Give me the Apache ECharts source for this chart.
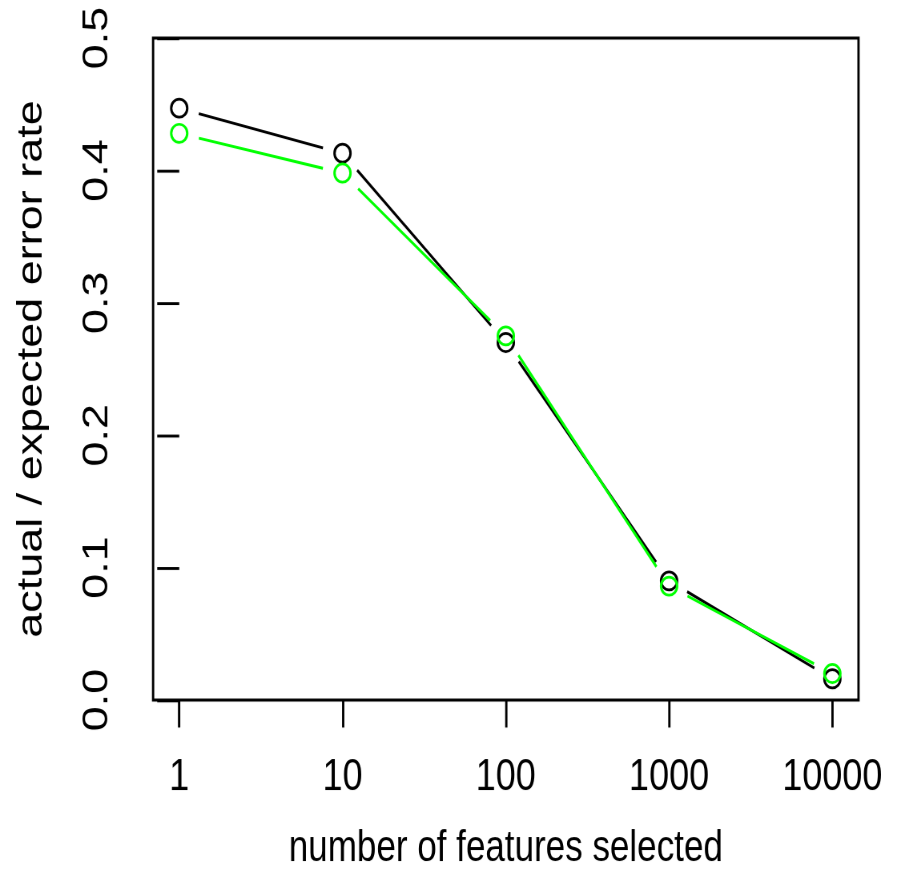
<!DOCTYPE html>
<html>
<head>
<meta charset="utf-8">
<script src="https://cdn.jsdelivr.net/npm/echarts@6/dist/echarts.min.js"></script>
<style>
html,body{margin:0;padding:0;background:#fff;}
#wrap{width:897px;height:872px;overflow:hidden;background:#fff;}
#c{width:897px;height:698px;transform:scaleY(1.2493);transform-origin:0 0;}
</style>
</head>
<body>
<div id="wrap"><div id="c"></div></div>
<script>
// Data
const features = [1, 10, 100, 1000, 10000];
const actualRate = [0.447, 0.413, 0.270, 0.090, 0.016];   // black
const expectedRate = [0.428, 0.398, 0.275, 0.086, 0.020]; // green
const xTickLabels = ['1', '10', '100', '1000', '10000'];
const yTicks = [0, 0.1, 0.2, 0.3, 0.4, 0.5];

const FONT = '"Liberation Sans", Arial, Helvetica, sans-serif';
const STRETCH = 1.2493;   // the reference is stretched vertically
const GAP = 20;
const LW = 2.3;

const xs = features.map(f => Math.log10(f));
function points(vals) { return xs.map((x, i) => [x, vals[i]]); }
function segments(vals) {
  const s = [];
  for (let i = 0; i < xs.length - 1; i++) s.push([xs[i], vals[i], xs[i + 1], vals[i + 1]]);
  return s;
}
function segSeries(vals, color) {
  return {
    type: 'custom',
    data: segments(vals),
    encode: { x: [0, 2], y: [1, 3] },
    silent: true,
    renderItem: function (params, api) {
      const p1 = api.coord([api.value(0), api.value(1)]);
      const p2 = api.coord([api.value(2), api.value(3)]);
      const dx = p2[0] - p1[0], dy = p2[1] - p1[1];
      const L = Math.hypot(dx, dy);
      if (L <= 2 * GAP) return null;
      const ux = dx / L, uy = dy / L;
      return {
        type: 'line',
        shape: { x1: p1[0] + ux * GAP, y1: p1[1] + uy * GAP, x2: p2[0] - ux * GAP, y2: p2[1] - uy * GAP },
        style: { stroke: color, lineWidth: LW }
      };
    }
  };
}
function ptSeries(vals, color) {
  return {
    type: 'scatter',
    data: points(vals),
    symbol: 'circle',
    symbolSize: [16, 14.5],
    silent: true,
    itemStyle: { color: 'rgba(255,255,255,0)', borderColor: color, borderWidth: LW, opacity: 1 },
    emphasis: { disabled: true }
  };
}

const chart = echarts.init(document.getElementById('c'), null, { renderer: 'canvas', devicePixelRatio: STRETCH });
chart.setOption({
  animation: false,
  backgroundColor: '#fff',
  grid: { left: 153, right: 39, top: 30.4, bottom: 137.7, containLabel: false, outerBoundsMode: 'none', show: true, borderColor: '#000', borderWidth: LW, backgroundColor: 'transparent' },
  xAxis: {
    type: 'value',
    min: -0.16, max: 4.16,
    name: 'number of features selected',
    nameLocation: 'middle',
    nameGap: 102,
    nameTextStyle: { fontFamily: FONT, fontSize: 35, color: '#000' },
    axisLine: { show: false },
    splitLine: { show: false },
    axisTick: { show: true, length: 22, inside: false, lineStyle: { color: '#000', width: LW }, customValues: xs },
    axisLabel: {
      customValues: xs,
      fontFamily: FONT, fontSize: 36, color: '#000', margin: 44,
      formatter: function (v) { const i = xs.indexOf(v); return i >= 0 ? xTickLabels[i] : ''; }
    }
  },
  yAxis: {
    type: 'value',
    min: 0, max: 0.5, interval: 0.1,
    name: 'actual / expected error rate',
    nameLocation: 'middle',
    nameGap: 103,
    nameTextStyle: { fontFamily: FONT, fontSize: 36, color: '#000' },
    axisLine: { show: false },
    splitLine: { show: false },
    axisTick: { show: true, length: 22, lineStyle: { color: '#000', width: LW }, customValues: yTicks },
    axisLabel: {
      customValues: yTicks,
      rotate: 90,
      fontFamily: FONT, fontSize: 36, color: '#000', margin: 38,
      formatter: function (v) { return v.toFixed(1); }
    }
  },
  series: [
    segSeries(actualRate, '#000000'),
    ptSeries(actualRate, '#000000'),
    segSeries(expectedRate, '#00ff00'),
    ptSeries(expectedRate, '#00ff00')
  ]
});
</script>
</body>
</html>
